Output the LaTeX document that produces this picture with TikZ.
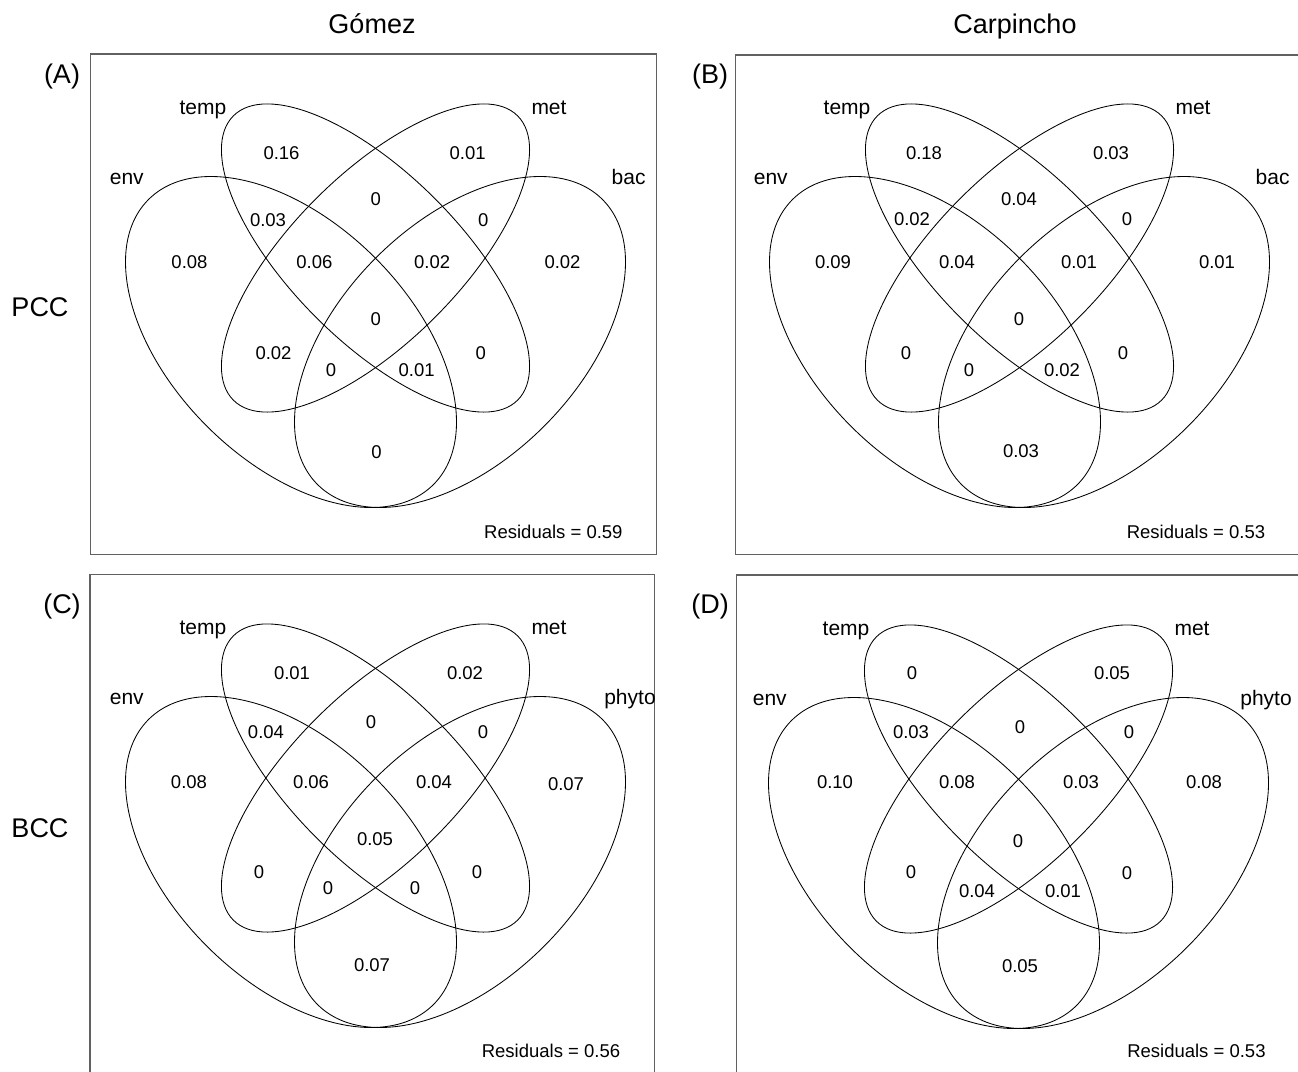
\documentclass[tikz,border=0pt]{standalone}
\usepackage{fontspec}
\setmainfont{Liberation Sans}
\newcommand\vennellipses{%
  \draw[vline, rotate around={-45:(375.5,258)}] (375.5,258) ellipse [x radius=201, y radius=84];
  \draw[vline, rotate around={45:(375.5,258)}] (375.5,258) ellipse [x radius=201, y radius=84];
  \draw[vline, rotate around={-45:(291,342)}] (291,342) ellipse [x radius=201.5, y radius=119];
  \draw[vline, rotate around={45:(460,342)}] (460,342) ellipse [x radius=201.5, y radius=119];
  \node[lab, anchor=base] (ltemp) at (203,114) {temp};
  \node[lab, anchor=base] (lmet) at (549,114) {met};
  \node[lab, anchor=base] (lenv) at (126.8,184) {env};
}
\begin{document}
\begin{tikzpicture}[x=1pt,y=-1pt,
  panelframe/.style={draw=black!62, line width=1.3pt},
  vline/.style={draw=black, line width=0.85pt},
  num/.style={font=\fontsize{18.5}{20}\selectfont, inner sep=0pt},
  lab/.style={font=\fontsize{21}{24}\selectfont, inner sep=0pt},
  big/.style={font=\fontsize{27}{30}\selectfont, inner sep=0pt},
  resid/.style={font=\fontsize{18.5}{20}\selectfont, inner sep=0pt}]
\useasboundingbox (0,0) rectangle (1298,1071);
\clip (0,0) rectangle (1298,1071);
\fill[white] (0,0) rectangle (1298,1071);
% titles
\node[big, anchor=base] (tg) at (372,33) {Gómez};
\node[big, anchor=base] (tc) at (1015,33) {Carpincho};
\node[big, anchor=base] (pcc) at (40,316.5) {PCC};
\node[big, anchor=base] (bcc) at (40,837) {BCC};
\node[big, anchor=base] (pa) at (62,83.5) {(A)};
\node[big, anchor=base] (pb) at (710,83.5) {(B)};
\node[big, anchor=base] (pc) at (62,613) {(C)};
\node[big, anchor=base] (pd) at (710,613) {(D)};
% frames
\draw[panelframe] (90.7,54) rectangle (656.7,554.3);
\draw[panelframe] (735.7,55) rectangle (1305,554.3);
\draw[panelframe] (90,574.3) rectangle (654.3,1080);
\draw[panelframe] (736.7,575) rectangle (1305,1080);
% panel A
\begin{scope}
  \vennellipses
  \node[lab, anchor=base] (abac) at (628.6,184) {bac};
  \foreach \x/\y/\v [count=\i] in {281.5/152.7/0.16, 467.6/152.7/0.01, 375.7/199.5/0,
      268/220.2/0.03, 483.3/220.2/0, 189.5/262/0.08, 314.4/262/0.06, 432.2/262/0.02,
      562.5/262/0.02, 375.7/319.2/0, 273.5/352.7/0.02, 331/370/0, 416.6/370/0.01,
      480.8/352.7/0, 376.4/452/0}
    \node[num] (a\i) at (\x,\y) {\v};
  \node[resid] (ra) at (553.4,532.3) {Residuals = 0.59};
\end{scope}
% panel B
\begin{scope}[shift={(644,0)}]
  \vennellipses
  \node[lab, anchor=base] (bbac) at (628.6,184) {bac};
  \foreach \x/\y/\v [count=\i] in {280/152.7/0.18, 467/152.7/0.03, 375/199.5/0.04,
      268/219.5/0.02, 483/219.5/0, 189/262/0.09, 313/262/0.04, 435/262/0.01,
      573/262/0.01, 375/319.2/0, 262/352.7/0, 325/370/0, 418/370/0.02,
      479/352.7/0, 377/451/0.03}
    \node[num] (b\i) at (\x,\y) {\v};
  \node[resid] (rb) at (552,532.3) {Residuals = 0.53};
\end{scope}
% panel C
\begin{scope}[shift={(0,520)}]
  \vennellipses
  \node[lab, anchor=base] (cphy) at (630,184) {phyto};
  \foreach \x/\y/\v [count=\i] in {292/153/0.01, 465/153/0.02, 371/202/0,
      266/212/0.04, 483/212/0, 189/262/0.08, 311/262/0.06, 434/262/0.04,
      566/264/0.07, 375/319/0.05, 259/352/0, 328/368/0, 415/368/0,
      477/352/0, 372/445/0.07}
    \node[num] (c\i) at (\x,\y) {\v};
  \node[resid] (rc) at (551,530.5) {Residuals = 0.56};
\end{scope}
% panel D
\begin{scope}[shift={(643,521)}]
  \vennellipses
  \node[lab, anchor=base] (dphy) at (623,184) {phyto};
  \foreach \x/\y/\v [count=\i] in {269/152/0, 469/152/0.05, 377/206/0,
      268/211.5/0.03, 486/211.5/0, 192/261/0.10, 314/261/0.08, 438/261/0.03,
      561/261/0.08, 375/320/0, 268/351.5/0, 334/370/0.04, 420/370/0.01,
      484/352/0, 377/445/0.05}
    \node[num] (d\i) at (\x,\y) {\v};
  \node[resid] (rd) at (553.4,530) {Residuals = 0.53};
\end{scope}
\end{tikzpicture}
\end{document}
